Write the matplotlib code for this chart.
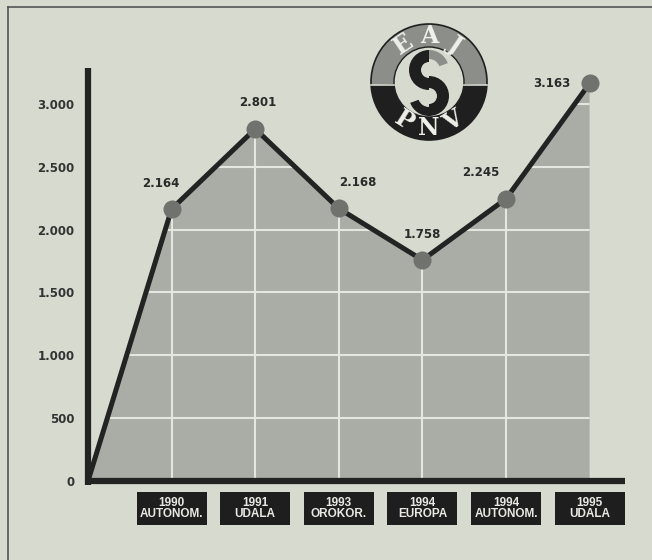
import matplotlib
matplotlib.use("Agg")
import matplotlib.pyplot as plt
from matplotlib.patches import Polygon, Rectangle, Circle, Wedge
from matplotlib.lines import Line2D
import numpy as np

# ---- data ----
years = ["1990", "1991", "1993", "1994", "1994", "1995"]
elections = ["AUTONOM.", "UDALA", "OROKOR.", "EUROPA", "AUTONOM.", "UDALA"]
votes = [2164, 2801, 2168, 1758, 2245, 3163]
value_labels = ["2.164", "2.801", "2.168", "1.758", "2.245", "3.163"]
ytick_vals = [0, 500, 1000, 1500, 2000, 2500, 3000]
ytick_labels = ["0", "500", "1.000", "1.500", "2.000", "2.500", "3.000"]

# label offsets (points) per value label
label_offsets = [(-8, 14), (2, 14), (14, 14), (0, 14), (-18, 14), (-14, -5)]
label_ha = ["center", "center", "center", "center", "center", "right"]

BG = "#d6dacf"
FILL = "#a9ada6"
GRID = "#e4e6e0"
DARK = "#232323"
MARK = "#6f726d"
FONT = ["DejaVu Sans"]

W, H = 652, 560
fig = plt.figure(figsize=(W / 100, H / 100), dpi=100, facecolor=BG)

# axes pixel box
L, R, T, B = 80, 630, 60, 540
ax = fig.add_axes([L / W, (H - B) / H, (R - L) / W, (B - T) / H])
ax.set_facecolor(BG)
def xd(px):
    return (px - 88) / 83.6
def yd(py):
    return (481 - py) / 0.1257
ax.set_xlim(xd(L), xd(R))
ax.set_ylim(yd(B), yd(T))
for s in ax.spines.values():
    s.set_visible(False)
ax.set_xticks([])
ax.set_yticks(ytick_vals)
ax.set_yticklabels(ytick_labels, fontsize=8.5, fontweight="bold", color="#333333",
                   family=FONT)
ax.tick_params(axis="y", length=0, pad=4)

xs = np.arange(1, len(votes) + 1)
px = np.concatenate([[0], xs])
py = np.concatenate([[0], votes])

# fill
poly_pts = list(zip(px, py)) + [(xs[-1], 0)]
poly = Polygon(poly_pts, closed=True, facecolor=FILL, edgecolor="none", zorder=1)
ax.add_patch(poly)

# grid lines clipped to fill
for v in ytick_vals[1:]:
    ln, = ax.plot([0, xs[-1]], [v, v], color=GRID, lw=1.5, zorder=2)
    ln.set_clip_path(poly)
for x in xs[:-1]:
    ln, = ax.plot([x, x], [0, max(votes)], color=GRID, lw=1.5, zorder=2)
    ln.set_clip_path(poly)

# axes lines
ax.plot([0, 0], [-30, yd(68)], color=DARK, lw=4.5, solid_capstyle="butt", zorder=5)
ax.plot([-0.03, xd(625)], [0, 0], color=DARK, lw=4.5, solid_capstyle="butt", zorder=5)

# data line
ax.plot(px, py, color=DARK, lw=3.6, zorder=6, solid_joinstyle="miter")
ax.plot(xs, votes, "o", color=MARK, markersize=13, markeredgewidth=0, zorder=7)

for x, v, lab, off, ha in zip(xs, votes, value_labels, label_offsets, label_ha):
    ax.annotate(lab, (x, v), xytext=off, textcoords="offset points", ha=ha, va="bottom",
                fontsize=8.5, fontweight="bold", color="#2a2a2a",
                family=FONT, zorder=8)

# category boxes
bw = 35 / 83.6
for x, yr, el in zip(xs, years, elections):
    ax.add_patch(Rectangle((x - bw, yd(525)), 2 * bw, yd(492) - yd(525),
                           facecolor="#1e1e1e", edgecolor="none", zorder=5))
    ax.text(x, (yd(492) + yd(525)) / 2, f"{yr}\n{el}", ha="center", va="center",
            color="#e8e8e4", fontsize=8.5, fontweight="bold", linespacing=0.95,
            family=["Liberation Sans Narrow", "Liberation Sans", "DejaVu Sans"], zorder=6)

# frame lines
fig.add_artist(Line2D([8 / W, 1], [1 - 7 / H, 1 - 7 / H], color="#555555", lw=1.2))
fig.add_artist(Line2D([8 / W, 8 / W], [0, 1 - 7 / H], color="#555555", lw=1.2))

# logo
cx, cy, S = 429, 82, 130
lax = fig.add_axes([(cx - S / 2) / W, (H - cy - S / 2) / H, S / W, S / H])
lax.set_xlim(-65, 65)
lax.set_ylim(-65, 65)
lax.set_aspect("equal")
lax.axis("off")
lax.add_patch(Wedge((0, 0), 58, -3, 183, width=23, facecolor="#8b8e89", edgecolor="none"))
lax.add_patch(Wedge((0, 0), 58, 183, 357, width=23, facecolor="#1f1f1f", edgecolor="none"))
lax.add_patch(Circle((0, 0), 58, facecolor="none", edgecolor="#1f1f1f", lw=1.2))
lax.add_patch(Circle((0, 0), 35, facecolor=BG, edgecolor="#1f1f1f", lw=1.0))
lax.plot([-58, -35], [-3, -3], color=BG, lw=1.2)
lax.plot([35, 58], [-3, -3], color=BG, lw=1.2)
# S shape
lax.add_patch(Wedge((0, 12), 20, 20, 90, width=9, facecolor="#8b8e89", edgecolor="none"))
lax.add_patch(Wedge((0, 12), 20, 90, 270, width=12, facecolor="#1f1f1f", edgecolor="none"))
lax.add_patch(Wedge((0, -14), 20, -90, 90, width=12, facecolor="#1f1f1f", edgecolor="none"))
lax.add_patch(Wedge((0, -14), 20, 200, 270, width=9, facecolor="#1f1f1f", edgecolor="none"))
for ch, ang in zip("EAJ", [124, 90, 56]):
    a = np.deg2rad(ang)
    lax.text(46 * np.cos(a), 46 * np.sin(a), ch, rotation=ang - 90, ha="center", va="center",
             fontsize=17, fontweight="bold", color="#f0f0ea", family="DejaVu Serif")
for ch, ang in zip("PNV", [238, 270, 302]):
    a = np.deg2rad(ang)
    lax.text(46 * np.cos(a), 46 * np.sin(a), ch, rotation=ang + 90, ha="center", va="center",
             fontsize=17, fontweight="bold", color="#f0f0ea", family="DejaVu Serif")

fig.savefig("out.png", dpi=100, facecolor=BG)
